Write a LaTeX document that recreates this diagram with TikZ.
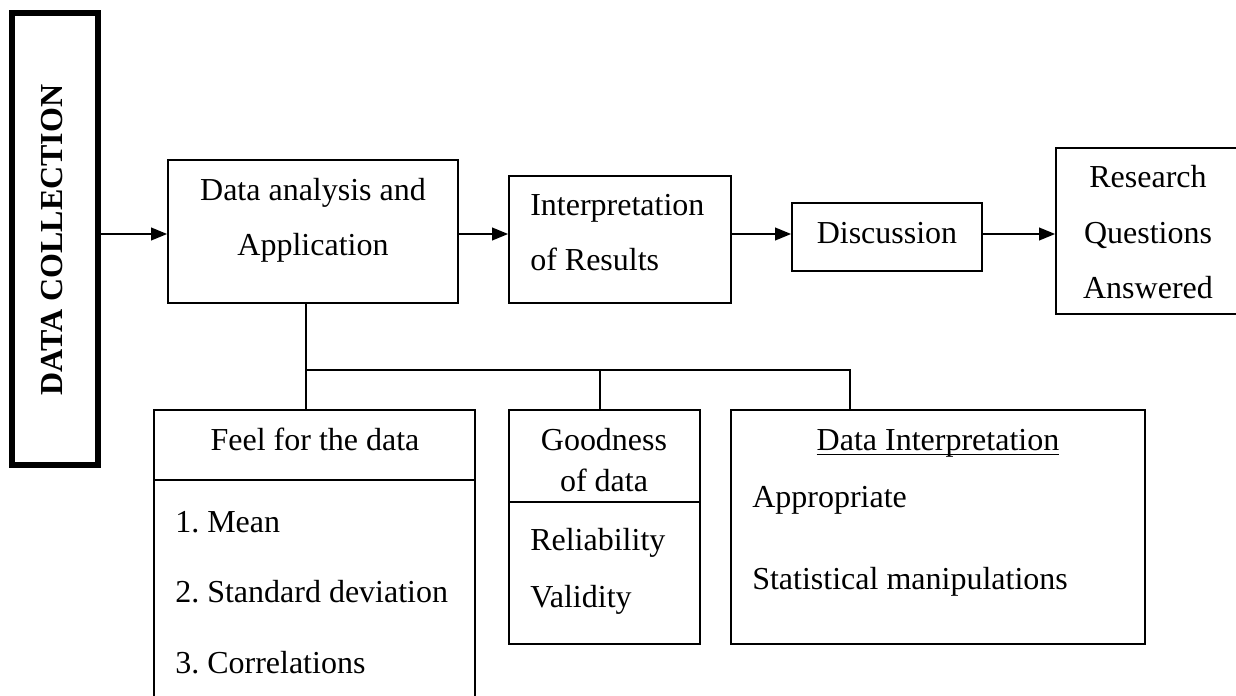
\documentclass[tikz,border=0pt]{standalone}
\usepackage{fontspec}
\setmainfont{Liberation Serif}
\usetikzlibrary{arrows.meta,fit}
\frenchspacing
\newcommand\myul[1]{\setbox0\hbox{#1}\rlap{\rule[-4pt]{\wd0}{1.1pt}}\box0}
\tikzset{
  box/.style={draw, line width=1.3pt, inner sep=0pt, rectangle},
  thickbox/.style={draw, line width=4.2pt, inner sep=0pt, rectangle},
  txt/.style={anchor=base, inner sep=0pt, font=\fontsize{24}{28}\selectfont},
  ltxt/.style={anchor=base west, inner sep=0pt, font=\fontsize{24}{28}\selectfont},
  arr/.style={-{Triangle[length=12pt,width=9.5pt]}, line width=1.3pt},
  conn/.style={line width=1.3pt}
}
\begin{document}
\begin{tikzpicture}[x=0.75pt,y=-0.75pt]
\useasboundingbox (0,0) rectangle (1236,696);
% boxes
\node[thickbox, fit={(12,13) (98,465)}] (dc) {};
\node[box, fit={(168,160) (458,303)}] (da) {};
\node[box, fit={(509,176) (731,303)}] (interp) {};
\node[box, fit={(792,203) (982,271)}] (disc) {};
\node[box, fit={(1056,148) (1260,314)}] (res) {};
\node[box, fit={(154,410) (475,720)}] (feel) {};
\node[box, fit={(509,410) (700,644)}] (good) {};
\node[box, fit={(731,410) (1145,644)}] (dint) {};
% dividers
\draw[conn] (feel.west |- 0,480) -- (feel.east |- 0,480);
\draw[conn] (good.west |- 0,502) -- (good.east |- 0,502);
% texts
\node[inner sep=0pt, rotate=90, font=\fontsize{24}{28}\selectfont\bfseries] (dct) at (52,240) {DATA COLLECTION};
\node[txt] (da1) at (313,200) {Data analysis and};
\node[txt] (da2) at (313,255) {Application};
\node[ltxt] (in1) at (530,215) {Interpretation};
\node[ltxt] (in2) at (530,270) {of Results};
\node[txt] (di1) at (887,243) {Discussion};
\node[txt] (r1) at (1148,187) {Research};
\node[txt] (r2) at (1148,243) {Questions};
\node[txt] (r3) at (1148,298) {Answered};
\node[txt] (f0) at (315,450) {Feel for the data};
\node[ltxt] (f1) at (175,532) {1. Mean};
\node[ltxt] (f2) at (175,602) {2. Standard deviation};
\node[ltxt] (f3) at (175,673) {3. Correlations};
\node[txt] (g1) at (604,450) {Goodness};
\node[txt] (g2) at (604,491) {of data};
\node[ltxt] (g3) at (530,550) {Reliability};
\node[ltxt] (g4) at (530,607) {Validity};
\node[txt] (dt0) at (938,450) {\myul{Data Interpretation}};
\node[ltxt] (dt1) at (752,507) {Appropriate};
\node[ltxt] (dt2) at (752,589) {Statistical manipulations};
% arrows
\coordinate (ay) at (0,234);
\draw[arr] (dc.east |- ay) -- (da.west |- ay);
\draw[arr] (da.east |- ay) -- (interp.west |- ay);
\draw[arr] (interp.east |- ay) -- (disc.west |- ay);
\draw[arr] (disc.east |- ay) -- (res.west |- ay);
% tree connectors
\coordinate (j1) at (306,370);
\coordinate (j2) at (600,370);
\coordinate (j3) at (850,370);
\draw[conn] (da.south -| j1) -- (feel.north -| j1);
\draw[conn] (j1) -- (j3) -- (dint.north -| j3);
\draw[conn] (j2) -- (good.north -| j2);
\end{tikzpicture}
\end{document}
